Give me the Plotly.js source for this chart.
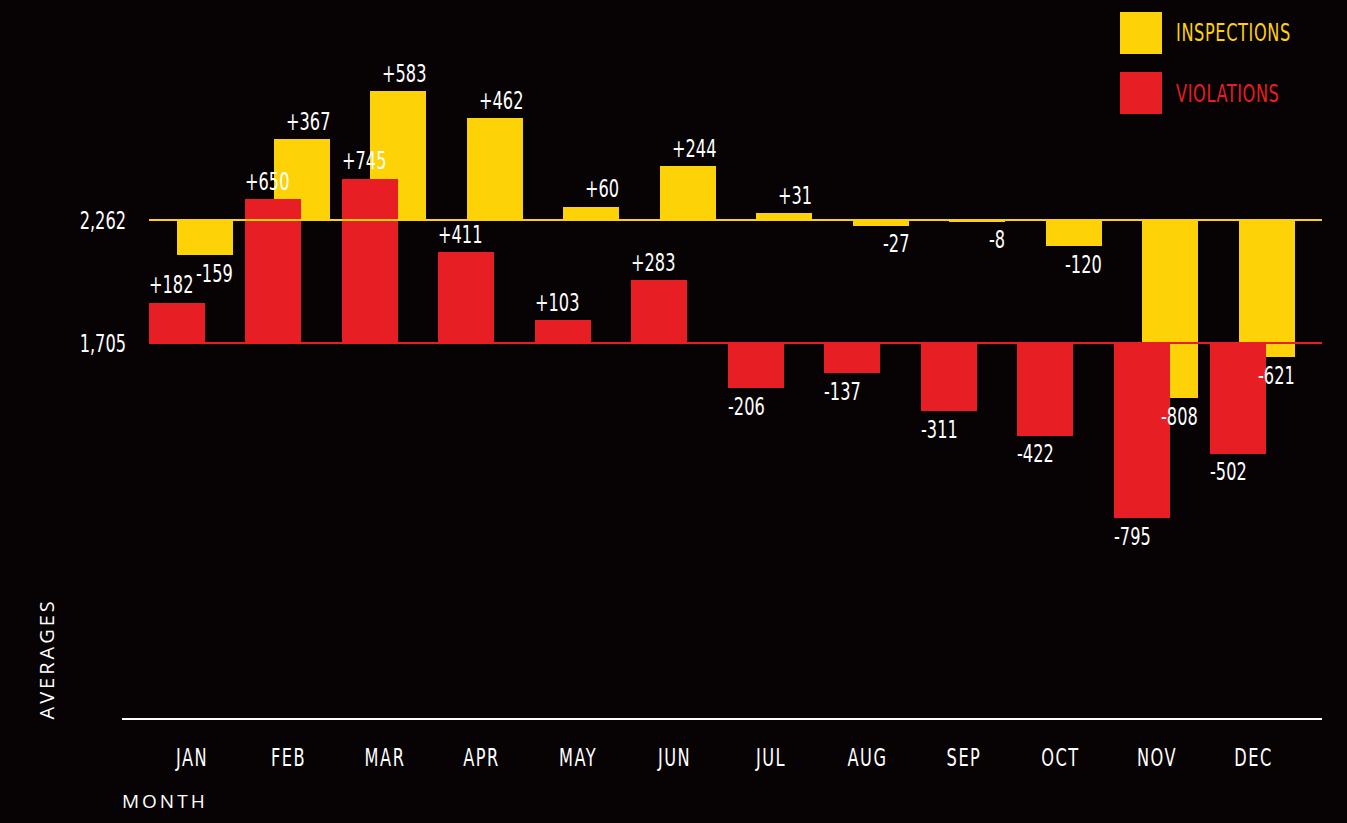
<!DOCTYPE html>
<html>
<head>
<meta charset="utf-8">
<script src="https://cdn.plot.ly/plotly-3.0.1.min.js"></script>
<style>
  html, body { margin: 0; padding: 0; background: #070203; }
  #chart { width: 1347px; height: 823px; }
  text[style*="DejaVu"] { font-stretch: condensed; }
  text[style*="Open Sans"] { letter-spacing: 3px; }
</style>
</head>
<body>
<div id="chart"></div>
<script>
// ---- data ----
const months = ['JAN','FEB','MAR','APR','MAY','JUN','JUL','AUG','SEP','OCT','NOV','DEC'];
const inspectionsDelta = [-159, 367, 583, 462, 60, 244, 31, -27, -8, -120, -808, -621];
const violationsDelta  = [182, 650, 745, 411, 103, 283, -206, -137, -311, -422, -795, -502];
const avgInspections = 2262;
const avgViolations = 1705;
const seriesNames = ['INSPECTIONS', 'VIOLATIONS'];

// ---- style ----
const YELLOW = '#FDD207';
const RED = '#E81E25';
const BG = '#070203';
const NARROW = "'DejaVu Sans', sans-serif";
const WIDE = "'Open Sans', sans-serif";

const W = 1347, H = 823;
const m = {l: 132, r: 25, t: 10, b: 104, pad: 0};
const px2x = px => (px - m.l) / (W - m.l - m.r);
const py2y = py => (H - m.b - py) / (H - m.t - m.b);

const barW = 0.58;
const offYellow = -0.155;
const offRed = -0.446;
const idx = months.map((_, i) => i);

const fmtDelta = v => (v > 0 ? '+' : '-') + Math.abs(v);
const fmtNum = v => v.toLocaleString('en-US');

const traces = [
  {
    type: 'bar', name: seriesNames[0],
    x: months, y: inspectionsDelta,
    base: months.map(() => avgInspections),
    offset: offYellow, width: barW,
    marker: {color: YELLOW, line: {width: 0}},
    hoverinfo: 'skip'
  },
  {
    type: 'bar', name: seriesNames[1],
    x: months, y: violationsDelta,
    base: months.map(() => avgViolations),
    offset: offRed, width: barW,
    marker: {color: RED, line: {width: 0}},
    hoverinfo: 'skip'
  }
];

const LBL = 18;
const annotations = [];
idx.forEach(i => {
  const dI = inspectionsDelta[i];
  annotations.push({
    x: i + offYellow + barW, y: avgInspections + dI, xref: 'x', yref: 'y',
    text: fmtDelta(dI), showarrow: false, xanchor: 'right', yanchor: 'middle',
    yshift: dI >= 0 ? 18 : -18, borderpad: 0, borderwidth: 0,
    font: {family: NARROW, size: LBL, color: '#ffffff'}
  });
  const dV = violationsDelta[i];
  annotations.push({
    x: i + offRed, y: avgViolations + dV, xref: 'x', yref: 'y',
    text: fmtDelta(dV), showarrow: false, xanchor: 'left', yanchor: 'middle',
    yshift: dV >= 0 ? 18 : -18, borderpad: 0, borderwidth: 0,
    font: {family: NARROW, size: LBL, color: '#ffffff'}
  });
});

// axis titles
annotations.push({
  xref: 'paper', yref: 'paper', x: px2x(46), y: py2y(720),
  xanchor: 'center', yanchor: 'bottom', textangle: -90, showarrow: false,
  text: 'AVERAGES', borderpad: 0, font: {family: WIDE, size: 20, color: '#ffffff'}
});
annotations.push({
  xref: 'paper', yref: 'paper', x: px2x(121), y: py2y(801),
  xanchor: 'left', yanchor: 'middle', showarrow: false,
  text: 'MONTH', borderpad: 0, font: {family: WIDE, size: 19, color: '#ffffff'}
});

// legend (manual)
const legendColors = [YELLOW, RED];
const legendTop = [12, 72];
const shapes = [];
seriesNames.forEach((name, k) => {
  shapes.push({
    type: 'rect', xref: 'paper', yref: 'paper', layer: 'above',
    x0: px2x(1120), x1: px2x(1162), y0: py2y(legendTop[k]), y1: py2y(legendTop[k] + 42),
    fillcolor: legendColors[k], line: {width: 0}
  });
  annotations.push({
    xref: 'paper', yref: 'paper', x: px2x(1175), y: py2y(legendTop[k] + 21),
    xanchor: 'left', yanchor: 'middle', showarrow: false, text: name, borderpad: 0,
    font: {family: NARROW, size: LBL, color: legendColors[k]}
  });
});

// average lines
const xMax = 11.71;
shapes.push({type: 'line', xref: 'x', yref: 'y', layer: 'above',
  x0: offRed, x1: xMax, y0: avgInspections, y1: avgInspections,
  line: {color: YELLOW, width: 2}});
shapes.push({type: 'line', xref: 'x', yref: 'y', layer: 'above',
  x0: offRed, x1: xMax, y0: avgViolations, y1: avgViolations,
  line: {color: RED, width: 2}});
// bottom axis line
shapes.push({type: 'line', xref: 'paper', yref: 'paper', layer: 'above',
  x0: px2x(122), x1: 1, y0: 0, y1: 0, line: {color: '#ffffff', width: 2}});

const layout = {
  width: W, height: H, margin: m,
  paper_bgcolor: BG, plot_bgcolor: BG,
  showlegend: false, barmode: 'overlay', bargap: 0,
  xaxis: {
    type: 'category', range: [-0.622, xMax],
    showgrid: false, zeroline: false, showline: false,
    ticks: 'outside', ticklen: 22, tickcolor: 'rgba(0,0,0,0)',
    tickfont: {family: NARROW, size: LBL, color: '#ffffff'},
    fixedrange: true
  },
  yaxis: {
    range: [0, 3214],
    tickvals: [avgViolations, avgInspections],
    ticktext: [fmtNum(avgViolations), fmtNum(avgInspections)],
    showgrid: false, zeroline: false, showline: false, ticks: '',
    ticklabelstandoff: 5,
    tickfont: {family: NARROW, size: LBL, color: '#ffffff'},
    fixedrange: true
  },
  shapes: shapes,
  annotations: annotations
};

// stretch condensed lettering vertically about its own centre (tall, narrow type as in the reference)
const SY = 1.37;
function stretchY(el, sy, ls, keepLeft) {
  const b0 = el.getBBox();
  if (ls) {
    el.style.letterSpacing = ls + 'px';
    if (keepLeft) {
      const b1 = el.getBBox();
      el.setAttribute('x', (+el.getAttribute('x') || 0) + (b0.x - b1.x));
    }
  }
  const b = el.getBBox();
  if (!b.height) return;
  const cy = b.y + b.height / 2;
  const tr = el.getAttribute('transform') || '';
  el.setAttribute('transform', (tr + ' matrix(1 0 0 ' + sy + ' 0 ' + (cy * (1 - sy)).toFixed(3) + ')').trim());
}

Plotly.newPlot('chart', traces, layout, {displayModeBar: false, staticPlot: true}).then(gd => {
  gd.querySelectorAll('.xtick text').forEach(t => stretchY(t, SY, 1.5, false));
  gd.querySelectorAll('.ytick text').forEach(t => stretchY(t, SY, 0, false));
  gd.querySelectorAll('g.annotation').forEach(g => {
    const a = layout.annotations[+g.getAttribute('data-index')];
    if (!a || a.font.family !== NARROW) return;
    const t = g.querySelector('text.annotation-text');
    const isLegend = seriesNames.indexOf(a.text) >= 0;
    stretchY(t, SY, isLegend ? 0.6 : 0, isLegend);
  });
});
</script>
</body>
</html>
